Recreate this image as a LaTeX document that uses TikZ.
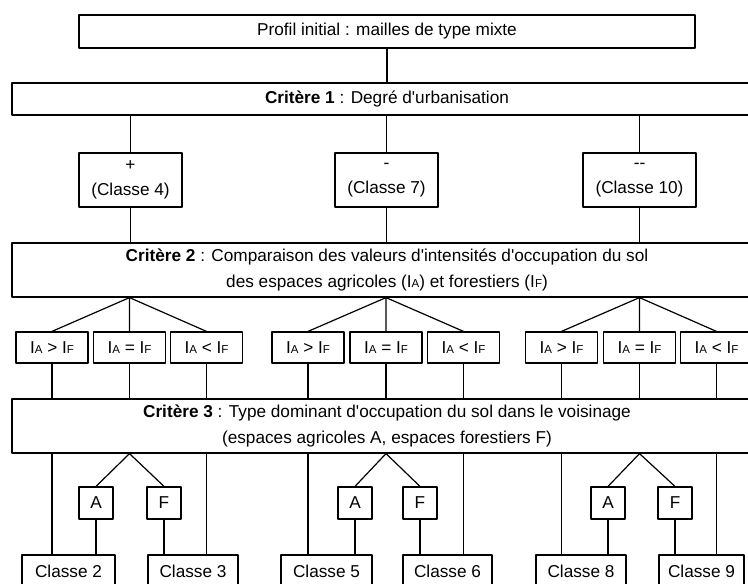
\documentclass[tikz,border=0pt]{standalone}
\usepackage{fontspec}
\setmainfont{Liberation Sans}
\newcommand{\ind}[1]{I{\fontsize{11.5}{11.5}\selectfont #1}}
\newcommand{\apos}{\textquotesingle}

\begin{document}
\begin{tikzpicture}[x=1pt, y=-1pt, line join=round, line cap=round,
    boite/.style={draw, line width=1.2pt, inner sep=0pt, align=center,
        font=\fontsize{17.2}{25.5}\selectfont},
    trait/.style={line width=1.2pt}]
    \useasboundingbox (0,0) rectangle (748,584);
    \clip (0,0) rectangle (748,584);

    % niveau 0 et critere 1
    \node[boite, minimum width=616, minimum height=33] (profil) at (387,31.5) {Profil initial : mailles de type mixte};
    \node[boite, minimum width=750, minimum height=32] (crit1) at (387,99) {\textbf{Critère 1} : Degré d\apos urbanisation};

    % classes du critere 1
    \node[boite, minimum width=103, minimum height=54] (c4) at (130.5,180) {+\\(Classe 4)};
    \node[boite, minimum width=103, minimum height=54] (c7) at (386.5,180) {-\\(Classe 7)};
    \node[boite, minimum width=113, minimum height=54] (c10) at (639.5,180) {-{}-\\(Classe 10)};

    \node[boite, minimum width=750, minimum height=54] (crit2) at (387,270)
        {\textbf{Critère 2} : Comparaison des valeurs d\apos intensités d\apos occupation du sol\\des espaces agricoles (\ind{A}) et forestiers (\ind{F})};

    % comparaisons IA / IF
    \node[boite, minimum width=72, minimum height=31] (g1a) at (52,347.5) {\ind{A} > \ind{F}};
    \node[boite, minimum width=72, minimum height=31] (g1b) at (129.5,347.5) {\ind{A} = \ind{F}};
    \node[boite, minimum width=72, minimum height=31] (g1c) at (206.5,347.5) {\ind{A} < \ind{F}};
    \node[boite, minimum width=72, minimum height=31] (g2a) at (308,347.5) {\ind{A} > \ind{F}};
    \node[boite, minimum width=72, minimum height=31] (g2b) at (386,347.5) {\ind{A} = \ind{F}};
    \node[boite, minimum width=72, minimum height=31] (g2c) at (463.5,347.5) {\ind{A} < \ind{F}};
    \node[boite, minimum width=72, minimum height=31] (g3a) at (561.5,347.5) {\ind{A} > \ind{F}};
    \node[boite, minimum width=72, minimum height=31] (g3b) at (639.5,347.5) {\ind{A} = \ind{F}};
    \node[boite, minimum width=72, minimum height=31] (g3c) at (716.5,347.5) {\ind{A} < \ind{F}};

    \node[boite, minimum width=750, minimum height=54] (crit3) at (387,426)
        {\textbf{Critère 3} : Type dominant d\apos occupation du sol dans le voisinage\\(espaces agricoles A, espaces forestiers F)};

    % voisinage A / F
    \node[boite, minimum width=34, minimum height=32] (a1) at (96,503) {A};
    \node[boite, minimum width=34, minimum height=32] (f1) at (164,503) {F};
    \node[boite, minimum width=34, minimum height=32] (a2) at (355,503) {A};
    \node[boite, minimum width=34, minimum height=32] (f2) at (420,503) {F};
    \node[boite, minimum width=34, minimum height=32] (a3) at (608,503) {A};
    \node[boite, minimum width=34, minimum height=32] (f3) at (675,503) {F};

    % classes finales
    \node[boite, minimum width=93, minimum height=32] (c2) at (68.5,571) {Classe 2};
    \node[boite, minimum width=90, minimum height=32] (c3) at (193,571) {Classe 3};
    \node[boite, minimum width=91, minimum height=32] (c5) at (326.5,571) {Classe 5};
    \node[boite, minimum width=89, minimum height=32] (c6) at (447.5,571) {Classe 6};
    \node[boite, minimum width=90, minimum height=32] (c8) at (581,571) {Classe 8};
    \node[boite, minimum width=85, minimum height=32] (c9) at (701.5,571) {Classe 9};

    % liaisons verticales
    \draw[trait] (profil.south) -- (profil.south |- crit1.north);
    \draw[trait] (c4.north |- crit1.south) -- (c4.north);
    \draw[trait] (c7.north |- crit1.south) -- (c7.north);
    \draw[trait] (c10.north |- crit1.south) -- (c10.north);
    \draw[trait] (c4.south) -- (c4.south |- crit2.north);
    \draw[trait] (c7.south) -- (c7.south |- crit2.north);
    \draw[trait] (c10.south) -- (c10.south |- crit2.north);

    % fourches du critere 2
    \coordinate (p1) at (g1b.north |- crit2.south);
    \coordinate (p2) at (g2b.north |- crit2.south);
    \coordinate (p3) at (g3b.north |- crit2.south);
    \draw[trait] (g1a.north) -- (p1) -- (g1c.north) (p1) -- (g1b.north);
    \draw[trait] (g2a.north) -- (p2) -- (g2c.north) (p2) -- (g2b.north);
    \draw[trait] (g3a.north) -- (p3) -- (g3c.north) (p3) -- (g3b.north);

    \foreach \g in {g1a,g1b,g1c,g2a,g2b,g2c,g3a,g3b,g3c}
        \draw[trait] (\g.south) -- (\g.south |- crit3.north);

    % fourches du critere 3
    \coordinate (q1) at (g1b.south |- crit3.south);
    \coordinate (q2) at (g2b.south |- crit3.south);
    \coordinate (q3) at (g3b.south |- crit3.south);
    \draw[trait] (a1.north) -- (q1) -- (f1.north);
    \draw[trait] (a2.north) -- (q2) -- (f2.north);
    \draw[trait] (a3.north) -- (q3) -- (f3.north);

    \draw[trait] (a1.south) -- (a1.south |- c2.north);
    \draw[trait] (f1.south) -- (f1.south |- c3.north);
    \draw[trait] (a2.south) -- (a2.south |- c5.north);
    \draw[trait] (f2.south) -- (f2.south |- c6.north);
    \draw[trait] (a3.south) -- (a3.south |- c8.north);
    \draw[trait] (f3.south) -- (f3.south |- c9.north);

    \draw[trait] (g1a.south |- crit3.south) -- (g1a.south |- c2.north);
    \draw[trait] (g1c.south |- crit3.south) -- (g1c.south |- c3.north);
    \draw[trait] (g2a.south |- crit3.south) -- (g2a.south |- c5.north);
    \draw[trait] (g2c.south |- crit3.south) -- (g2c.south |- c6.north);
    \draw[trait] (g3a.south |- crit3.south) -- (g3a.south |- c8.north);
    \draw[trait] (g3c.south |- crit3.south) -- (g3c.south |- c9.north);
\end{tikzpicture}
\end{document}
